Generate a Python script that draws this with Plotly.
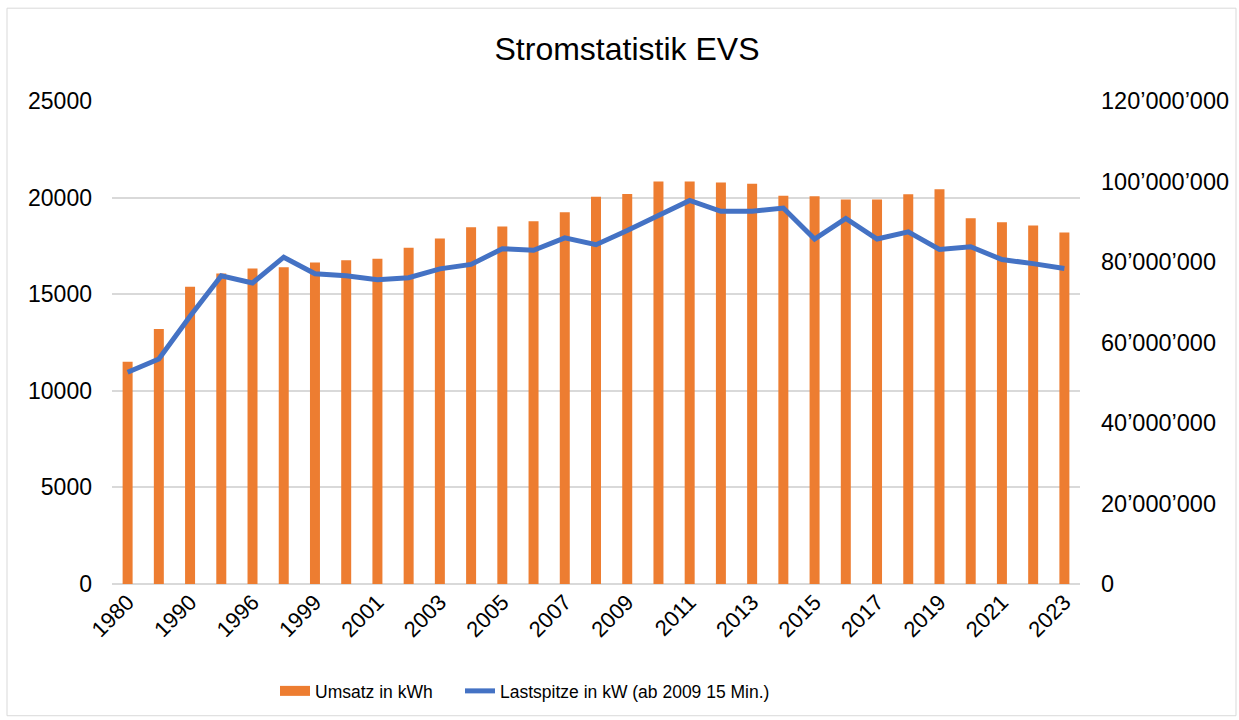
import plotly.graph_objects as go

years = ["1980", "1985", "1990", "1995", "1996", "1998", "1999", "2000", "2001", "2002",
         "2003", "2004", "2005", "2006", "2007", "2008", "2009", "2010", "2011", "2012",
         "2013", "2014", "2015", "2016", "2017", "2018", "2019", "2020", "2021", "2022", "2023"]

umsatz_kwh = [11500, 13200, 15380, 16070, 16330, 16390, 16640, 16760, 16840, 17400,
              17880, 18460, 18500, 18770, 19240, 20050, 20190, 20830, 20830, 20780,
              20720, 20100, 20070, 19900, 19900, 20170, 20430, 18930, 18720, 18550, 18190]

lastspitze_kw = [52.6e6, 55.9e6, 66.5e6, 76.6e6, 74.8e6, 81.2e6, 77.1e6, 76.6e6, 75.6e6, 76.1e6,
                 78.3e6, 79.4e6, 83.3e6, 82.9e6, 86.0e6, 84.3e6, 87.8e6, 91.4e6, 95.3e6, 92.6e6,
                 92.6e6, 93.4e6, 85.7e6, 90.8e6, 85.7e6, 87.5e6, 83.1e6, 83.8e6, 80.6e6, 79.6e6, 78.4e6]

left_ticks = [0, 5000, 10000, 15000, 20000, 25000]
left_ticktext = ["0", "5000", "10000", "15000", "20000", "25000"]
right_ticks = [0, 20e6, 40e6, 60e6, 80e6, 100e6, 120e6]
right_ticktext = ["0", "20’000’000", "40’000’000", "60’000’000", "80’000’000",
                  "100’000’000", "120’000’000"]
x_labels = years[::2]

FONT = "Liberation Sans, Arial, sans-serif"
ORANGE = "#ED7D31"
BLUE = "#4472C4"

L, T, W, H = 112, 101, 968, 484


def px(p):
    return (p - L) / W


def py(p):
    return (T + H - p) / H


fig = go.Figure()
fig.add_trace(go.Bar(x=years, y=umsatz_kwh, name="Umsatz in kWh",
                     marker=dict(color=ORANGE, line=dict(width=0)),
                     showlegend=False))
# legend-only entry giving the wide rectangular key of the bar series
fig.add_trace(go.Scatter(x=[None], y=[None], name="Umsatz in kWh", mode="lines",
                         line=dict(color=ORANGE, width=13), legend="legend",
                         hoverinfo="skip"))
fig.add_trace(go.Scatter(x=years, y=lastspitze_kw, name="Lastspitze in kW (ab 2009 15 Min.)",
                         mode="lines", line=dict(color=BLUE, width=5),
                         yaxis="y2", legend="legend2"))

legend_common = dict(orientation="h", yanchor="middle", xanchor="left",
                     font=dict(family=FONT, size=17.5, color="#000000"),
                     itemwidth=30, bgcolor="rgba(0,0,0,0)", borderwidth=0)

fig.update_layout(
    width=1239, height=720,
    margin=dict(l=L, r=1239 - L - W, t=T, b=720 - T - H),
    paper_bgcolor="white", plot_bgcolor="white",
    font=dict(family=FONT, size=23, color="#000000"),
    title=dict(text="Stromstatistik EVS", x=px(627), xanchor="center",
               xref="paper", y=1 - 49 / 720, yanchor="middle",
               font=dict(family=FONT, size=32, color="#000000")),
    bargap=0.68,
    xaxis=dict(type="category", tickangle=-45, tickmode="array",
               tickvals=x_labels, ticktext=x_labels, automargin=False,
               showgrid=False, showline=False, ticks="",
               tickfont=dict(size=22)),
    yaxis=dict(range=[0, 25000], tickvals=left_ticks, ticktext=left_ticktext,
               automargin=False,
               showgrid=True, gridcolor="#D9D9D9", gridwidth=1.5,
               zeroline=True, zerolinecolor="#D9D9D9", zerolinewidth=1.5,
               showline=False, ticks="", ticklabelstandoff=19,
               tickfont=dict(size=23)),
    yaxis2=dict(range=[0, 120e6], tickvals=right_ticks, ticktext=right_ticktext,
                overlaying="y", side="right", showgrid=False, zeroline=False,
                automargin=False,
                showline=False, ticks="", ticklabelstandoff=20,
                tickfont=dict(size=23.5)),
    legend=dict(x=px(275), y=py(691), **legend_common),
    legend2=dict(x=px(460), y=py(691), **legend_common),
    showlegend=True,
)

fig.add_shape(type="rect", xref="paper", yref="paper",
              x0=px(7), x1=px(1236), y0=py(717), y1=py(8),
              line=dict(color="#D9D9D9", width=1), fillcolor="rgba(0,0,0,0)", layer="below")

fig.write_html("out.html", config={"displayModeBar": False},
               post_script="document.body.style.margin='0';document.body.style.padding='0';")
